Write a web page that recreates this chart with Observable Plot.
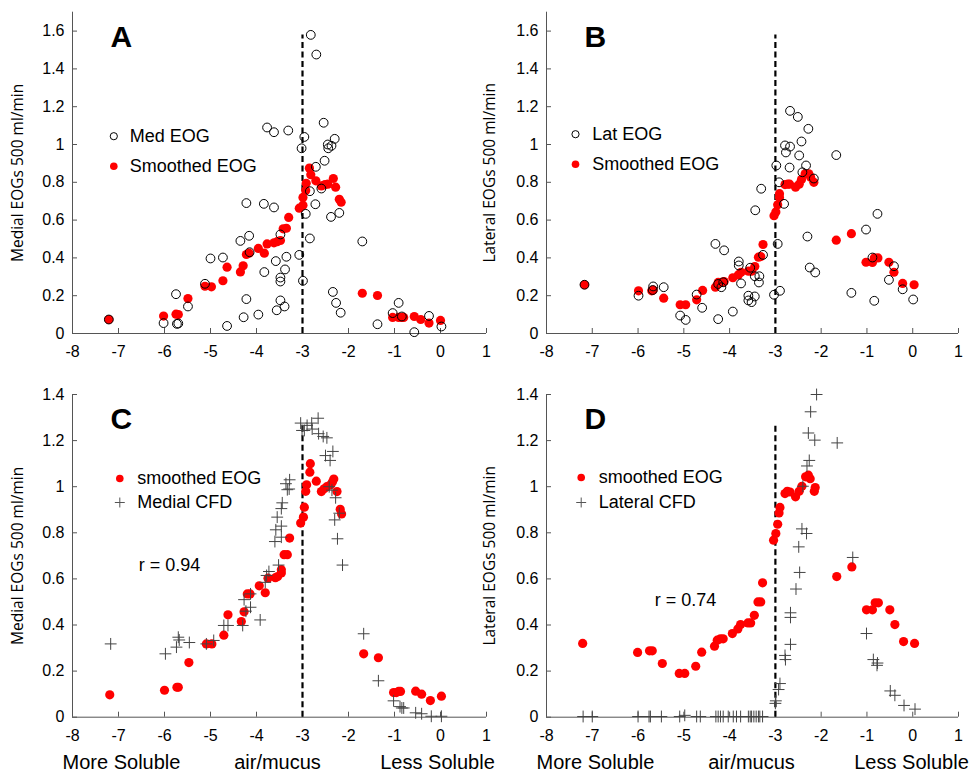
<!DOCTYPE html>
<html><head><meta charset="utf-8">
<script src="https://cdn.jsdelivr.net/npm/d3@7"></script>
<script src="https://cdn.jsdelivr.net/npm/@observablehq/plot@0.6"></script>
<style>
body{margin:0;background:#fff;}
#fig{position:relative;width:975px;height:773px;overflow:hidden;background:#fff;}
.pane{position:absolute;}
</style></head><body><div id="fig"></div>
<script>
// ---------- ticks & labels ----------
const xTicks = [-8,-7,-6,-5,-4,-3,-2,-1,0,1];
const yTicksTop = [0,0.2,0.4,0.6,0.8,1,1.2,1.4,1.6];
const yTicksBottom = [0,0.2,0.4,0.6,0.8,1,1.2,1.4];
const panelLetters = ["A","B","C","D"];
const yAxisLabels = ["Medial EOGs 500 ml/min","Lateral EOGs 500 ml/min","Medial EOGs 500 ml/min","Lateral EOGs 500 ml/min"];
const legendA = ["Med EOG","Smoothed EOG"];
const legendB = ["Lat EOG","Smoothed EOG"];
const legendC = ["smoothed EOG","Medial CFD"];
const legendD = ["smoothed EOG","Lateral CFD"];
const rLabels = ["r = 0.94","r = 0.74"];
const solubilityWords = ["More Soluble","air/mucus","Less Soluble"];
const boundaryX = -3;                 // air/mucus partition line
const boundaryTop = [1.58,1.58,1.27,1.27];

// ---------- Panel A: medial EOG (open) and smoothed EOG (red) ----------
const medEOG_x = [-7.21,-6.02,-5.75,-5.73,-5.70,-5.49,-5.12,-5.00,-4.73,-4.64,-4.35,-4.28,-4.22,-4.22,-4.16,-4.15,-3.96,-3.84,-3.83,-3.77,-3.62,-3.62,-3.58,-3.56,-3.48,-3.48,-3.48,-3.48,-3.39,-3.38,-3.35,-3.31,-3.07,-3.02,-2.99,-2.96,-2.93,-2.84,-2.82,-2.70,-2.54,-2.30,-2.45,-2.37,-2.44,-2.52,-2.71,-2.59,-2.72,-2.20,-2.38,-2.84,-1.70,-2.34,-2.27,-2.17,-1.37,-0.91,-1.04,-0.84,-0.25,0.02,-0.57];
const medEOG_y = [0.074,0.055,0.208,0.051,0.053,0.143,0.263,0.397,0.402,0.040,0.490,0.086,0.690,0.182,0.517,0.430,0.100,0.686,0.325,1.090,1.065,0.667,0.383,0.123,0.524,0.296,0.275,0.175,0.143,0.339,0.406,1.074,0.416,0.980,0.279,1.040,0.633,0.753,1.580,1.476,1.115,1.030,1.000,0.993,0.980,0.914,0.882,0.767,0.684,0.638,0.617,0.503,0.487,0.220,0.162,0.110,0.049,0.162,0.108,0.090,0.093,0.037,0.007];
const smoothA_x = [-7.21,-6.02,-5.75,-5.70,-5.49,-5.12,-4.98,-4.73,-4.64,-4.35,-4.29,-4.22,-4.16,-3.96,-3.83,-3.77,-3.62,-3.55,-3.48,-3.42,-3.35,-3.30,-3.07,-2.99,-2.99,-2.93,-2.92,-2.85,-2.82,-2.71,-2.59,-2.51,-2.45,-2.33,-2.28,-2.20,-2.16,-1.70,-1.37,-1.04,-0.91,-0.84,-0.80,-0.57,-0.43,-0.25,0.00];
const smoothA_y = [0.074,0.092,0.102,0.100,0.185,0.250,0.247,0.279,0.351,0.326,0.358,0.418,0.425,0.450,0.425,0.474,0.480,0.486,0.492,0.554,0.557,0.614,0.663,0.679,0.720,0.757,0.795,0.875,0.840,0.808,0.781,0.788,0.790,0.820,0.774,0.710,0.695,0.213,0.201,0.085,0.085,0.085,0.085,0.090,0.074,0.055,0.069];

// ---------- Panel B: lateral EOG (open) and smoothed EOG (red) ----------
const latEOG_x = [-7.17,-5.99,-5.67,-5.68,-5.44,-5.08,-4.96,-4.72,-4.60,-4.31,-4.25,-4.25,-4.18,-4.14,-4.12,-3.93,-3.80,-3.80,-3.75,-3.59,-3.59,-3.55,-3.52,-3.45,-3.45,-3.44,-3.35,-3.36,-3.31,-3.27,-3.03,-2.98,-2.95,-2.92,-2.90,-2.81,-2.79,-2.77,-2.69,-2.68,-2.68,-2.51,-2.48,-2.43,-2.41,-2.33,-2.30,-2.28,-2.25,-2.16,-2.13,-1.67,-1.34,-1.02,-0.88,-0.84,-0.77,-0.52,-0.41,-0.22,0.01];
const latEOG_y = [0.258,0.200,0.249,0.230,0.245,0.095,0.072,0.206,0.136,0.474,0.262,0.076,0.245,0.271,0.440,0.116,0.381,0.360,0.265,0.200,0.175,0.348,0.166,0.303,0.196,0.652,0.303,0.270,0.766,0.416,0.205,0.889,0.474,0.800,0.226,0.686,0.995,0.958,0.878,1.178,0.989,1.146,0.942,1.016,0.853,0.889,0.513,1.083,0.349,0.820,0.323,0.944,0.215,0.550,0.402,0.173,0.633,0.284,0.356,0.234,0.180];
const smoothB_x = [-7.17,-5.99,-5.70,-5.67,-5.44,-5.08,-4.96,-4.72,-4.59,-4.31,-4.25,-4.18,-4.12,-3.93,-3.81,-3.75,-3.59,-3.52,-3.45,-3.37,-3.32,-3.27,-3.03,-2.99,-2.95,-2.91,-2.91,-2.79,-2.73,-2.69,-2.56,-2.48,-2.43,-2.35,-2.27,-2.23,-2.16,-1.67,-1.34,-1.02,-0.88,-0.84,-0.76,-0.52,-0.41,-0.22,0.03];
const smoothB_y = [0.258,0.226,0.226,0.230,0.187,0.152,0.152,0.178,0.228,0.245,0.270,0.270,0.275,0.295,0.310,0.324,0.330,0.330,0.354,0.404,0.407,0.471,0.623,0.643,0.681,0.720,0.740,0.788,0.790,0.790,0.774,0.790,0.815,0.845,0.845,0.827,0.800,0.494,0.528,0.377,0.376,0.400,0.400,0.377,0.324,0.265,0.258];

// ---------- Panel C: smoothed EOG (red) and medial CFD (+) ----------
const smoothC_x = [-7.19,-6.00,-5.73,-5.70,-5.47,-5.09,-4.97,-4.71,-4.62,-4.33,-4.27,-4.20,-4.14,-3.94,-3.81,-3.75,-3.59,-3.54,-3.46,-3.46,-3.40,-3.33,-3.28,-3.04,-2.98,-2.96,-2.93,-2.91,-2.84,-2.83,-2.70,-2.59,-2.53,-2.47,-2.39,-2.35,-2.32,-2.25,-2.18,-2.15,-1.67,-1.35,-1.02,-0.96,-0.91,-0.87,-0.54,-0.41,-0.22,0.02];
const smoothC_y = [0.097,0.117,0.130,0.130,0.237,0.318,0.318,0.356,0.444,0.415,0.457,0.535,0.535,0.570,0.540,0.603,0.605,0.610,0.626,0.640,0.705,0.705,0.777,0.842,0.868,0.911,0.980,1.008,1.063,1.100,1.024,0.979,0.991,1.000,1.008,1.020,1.033,0.979,0.902,0.882,0.275,0.258,0.107,0.107,0.112,0.112,0.113,0.100,0.072,0.091];
const medCFD_x = [-7.17,-5.98,-5.74,-5.70,-5.68,-5.46,-5.09,-4.93,-4.71,-4.62,-4.30,-4.27,-4.23,-4.13,-4.13,-3.92,-3.81,-3.78,-3.73,-3.60,-3.58,-3.55,-3.52,-3.46,-3.46,-3.46,-3.44,-3.36,-3.33,-3.28,-3.29,-3.04,-3.01,-2.96,-2.90,-2.80,-2.79,-2.66,-2.65,-2.55,-2.47,-2.50,-2.40,-2.34,-2.42,-2.36,-2.28,-2.20,-2.30,-2.24,-2.13,-1.67,-1.35,-1.02,-0.88,-0.84,-0.80,-0.54,-0.41,-0.20,0.02];
const medCFD_y = [0.318,0.275,0.304,0.347,0.335,0.324,0.318,0.333,0.398,0.398,0.398,0.510,0.460,0.477,0.535,0.422,0.585,0.615,0.632,0.762,0.813,0.868,0.660,0.829,0.781,0.905,0.930,1.013,0.987,1.030,0.990,1.276,1.244,1.244,1.266,1.276,1.250,1.297,1.230,1.218,1.212,1.135,1.114,1.153,1.000,0.985,0.952,0.885,0.856,0.774,0.660,0.362,0.158,0.071,0.046,0.040,0.040,0.019,0.015,0.004,0.004];

// ---------- Panel D: smoothed EOG (red) and lateral CFD (+) ----------
const smoothD_x = [-7.21,-6.01,-5.75,-5.69,-5.47,-5.10,-4.98,-4.74,-4.61,-4.33,-4.27,-4.20,-4.14,-3.94,-3.82,-3.76,-3.60,-3.54,-3.46,-3.38,-3.32,-3.28,-3.04,-2.99,-2.95,-2.92,-2.90,-2.79,-2.74,-2.68,-2.56,-2.48,-2.42,-2.34,-2.28,-2.24,-2.13,-2.15,-1.66,-1.33,-1.01,-0.88,-0.82,-0.75,-0.50,-0.39,-0.20,0.04];
const smoothD_y = [0.320,0.281,0.288,0.288,0.233,0.190,0.190,0.221,0.282,0.308,0.334,0.340,0.340,0.363,0.383,0.402,0.409,0.409,0.442,0.500,0.500,0.583,0.768,0.797,0.837,0.886,0.910,0.970,0.980,0.977,0.956,0.980,1.002,1.043,1.050,1.035,0.996,0.980,0.610,0.652,0.466,0.466,0.496,0.496,0.466,0.402,0.328,0.320];
const latCFD_x = [-7.20,-7.00,-6.00,-5.76,-5.73,-5.49,-5.09,-4.98,-4.72,-4.64,-4.30,-4.25,-4.20,-4.14,-4.03,-3.92,-3.85,-3.76,-3.59,-3.55,-3.52,-3.47,-3.42,-3.37,-3.34,-3.28,-3.00,-2.99,-2.93,-2.90,-2.78,-2.79,-2.67,-2.67,-2.67,-2.55,-2.47,-2.49,-2.42,-2.32,-2.40,-2.31,-2.26,-2.28,-2.14,-2.23,-2.10,-1.65,-1.31,-1.01,-0.86,-0.78,-0.77,-0.49,-0.39,-0.19,0.05];
const latCFD_y = [0.003,0.003,0.003,0.003,0.003,0.003,0.003,0.008,0.003,0.003,0.003,0.003,0.003,0.003,0.003,0.003,0.003,0.003,0.003,0.003,0.003,0.003,0.003,0.003,0.003,0.003,0.060,0.071,0.120,0.146,0.250,0.268,0.316,0.433,0.453,0.556,0.628,0.739,0.817,0.797,1.002,1.090,1.114,1.233,1.202,1.325,1.400,1.190,0.693,0.363,0.250,0.225,0.235,0.114,0.095,0.051,0.035];

// ---------- styling / layout ----------
const RED = "#ff0000";
const FONT = "'Liberation Sans', Arial, sans-serif";
const rows = {
  top:    {top: 0,   height: 380, mt: 11.7, mb: 47,   yDomain: [0, 1.7], yTicks: yTicksTop},
  bottom: {top: 380, height: 393, mt: 14,   mb: 56.3, yDomain: [0, 1.4], yTicks: yTicksBottom}
};
const cols = {
  left:  {left: 0,   width: 500, ml: 72, mr: 14, ylabDx: -54},
  right: {left: 470, width: 505, ml: 76, mr: 17, ylabDx: -56}
};

function legendMarks(names, kinds, mx, my, tx) {
  const out = [];
  names.forEach((name, i) => {
    const k = kinds[i];
    if (k === "open") out.push(Plot.dot([name], {x: null, y: null, frameAnchor: "top-left", dx: mx, dy: my[i], r: 3.6, stroke: "#000", fill: "none", strokeWidth: 1}));
    if (k === "red") out.push(Plot.dot([name], {x: null, y: null, frameAnchor: "top-left", dx: mx, dy: my[i], r: 3.8, fill: RED, stroke: "none"}));
    if (k === "plus") out.push(Plot.dot([name], {x: null, y: null, frameAnchor: "top-left", dx: mx, dy: my[i], r: 3.3, symbol: "plus", stroke: "#555", strokeWidth: 1}));
    out.push(Plot.text([name], {frameAnchor: "top-left", dx: tx, dy: my[i], textAnchor: "start", lineAnchor: "middle", fontSize: 18, fill: "#000", fontFamily: FONT}));
  });
  return out;
}

function panel(idx, row, col, series, legend, extras) {
  const R = rows[row], C = cols[col];
  const marks = [
    // axis lines (box off)
    Plot.ruleY([R.yDomain[0]], {stroke: "#555", strokeWidth: 1}),
    Plot.ruleX([xTicks[0]], {stroke: "#555", strokeWidth: 1}),
    // inward tick marks
    Plot.axisX({ticks: xTicks, tickSize: 5, dy: -5, tickFormat: () => "", label: null, stroke: "#555"}),
    Plot.axisY({ticks: R.yTicks, tickSize: 5, dx: 5, tickFormat: () => "", label: null, stroke: "#555"}),
    // tick labels
    Plot.axisX({ticks: xTicks, tickSize: 0, tickPadding: 12, tickFormat: d => String(d), label: null, fontSize: 16, fill: "#000"}),
    Plot.axisY({ticks: R.yTicks, tickSize: 0, tickPadding: 8, tickFormat: d => String(d), label: null, fontSize: 16, fill: "#000"}),
    // y label
    Plot.text([yAxisLabels[idx]], {frameAnchor: "left", dx: C.ylabDx, rotate: -90, textAnchor: "middle", lineAnchor: "middle", fontSize: 15.5, fontFamily: "'Open Sans', sans-serif", fill: "#000"}),
    // boundary
    Plot.ruleX([boundaryX], {y1: () => 0, y2: () => boundaryTop[idx], stroke: "#000", strokeWidth: 2.2, strokeDasharray: "6,3.5"}),
  ];
  for (const s of series) {
    if (s.kind === "red") marks.push(Plot.dot(s.x, {x: s.x, y: s.y, r: 4.6, fill: RED, stroke: "none"}));
  }
  for (const s of series) {
    if (s.kind === "open") marks.push(Plot.dot(s.x, {x: s.x, y: s.y, r: 4.4, stroke: "#000", fill: "none", strokeWidth: 1}));
    if (s.kind === "plus") marks.push(Plot.dot(s.x, {x: s.x, y: s.y, r: 3.9, symbol: "plus", stroke: "#444", strokeWidth: 1}));
  }
  marks.push(Plot.text([panelLetters[idx]], {frameAnchor: "top-left", dx: 38, dy: 13, textAnchor: "start", lineAnchor: "top", fontSize: 30, fontWeight: "bold", fill: "#000", fontFamily: FONT}));
  marks.push(...legendMarks(legend.names, legend.kinds, legend.mx, legend.my, legend.tx));
  if (extras) marks.push(...extras);

  const svg = Plot.plot({
    width: C.width, height: R.height,
    marginLeft: C.ml, marginRight: C.mr, marginTop: R.mt, marginBottom: R.mb,
    x: {domain: [xTicks[0], xTicks[xTicks.length - 1]], axis: null},
    y: {domain: R.yDomain, axis: null},
    style: `background:transparent;overflow:visible;max-width:none;font-family:${FONT};font-size:16px;color:#000;`,
    marks
  });
  const div = document.createElement("div");
  div.className = "pane";
  div.style.left = C.left + "px";
  div.style.top = R.top + "px";
  div.appendChild(svg);
  document.getElementById("fig").appendChild(div);
}

function bottomExtras(rIdx, rdx, rdy) {
  const wordDx = [49, 205, 365];
  return [
    Plot.text([rLabels[rIdx]], {frameAnchor: "top-left", dx: rdx, dy: rdy, textAnchor: "start", lineAnchor: "middle", fontSize: 18, fill: "#000", fontFamily: FONT}),
    ...solubilityWords.map((w, i) => Plot.text([w], {frameAnchor: "bottom-left", dx: wordDx[i], dy: 45, textAnchor: "middle", lineAnchor: "middle", fontSize: 20, fill: "#000", fontFamily: FONT}))
  ];
}

panel(0, "top", "left",
  [{kind: "red", x: smoothA_x, y: smoothA_y}, {kind: "open", x: medEOG_x, y: medEOG_y}],
  {names: legendA, kinds: ["open", "red"], mx: 41.3, my: [124, 154], tx: 57.3});
panel(1, "top", "right",
  [{kind: "red", x: smoothB_x, y: smoothB_y}, {kind: "open", x: latEOG_x, y: latEOG_y}],
  {names: legendB, kinds: ["open", "red"], mx: 29, my: [122, 152], tx: 45.7});
panel(2, "bottom", "left",
  [{kind: "red", x: smoothC_x, y: smoothC_y}, {kind: "plus", x: medCFD_x, y: medCFD_y}],
  {names: legendC, kinds: ["red", "plus"], mx: 47.3, my: [84, 108], tx: 64.7},
  bottomExtras(0, 66.3, 171));
panel(3, "bottom", "right",
  [{kind: "red", x: smoothD_x, y: smoothD_y}, {kind: "plus", x: latCFD_x, y: latCFD_y}],
  {names: legendD, kinds: ["red", "plus"], mx: 34.7, my: [83, 108], tx: 52.3},
  bottomExtras(1, 108.3, 206));
</script></body></html>
